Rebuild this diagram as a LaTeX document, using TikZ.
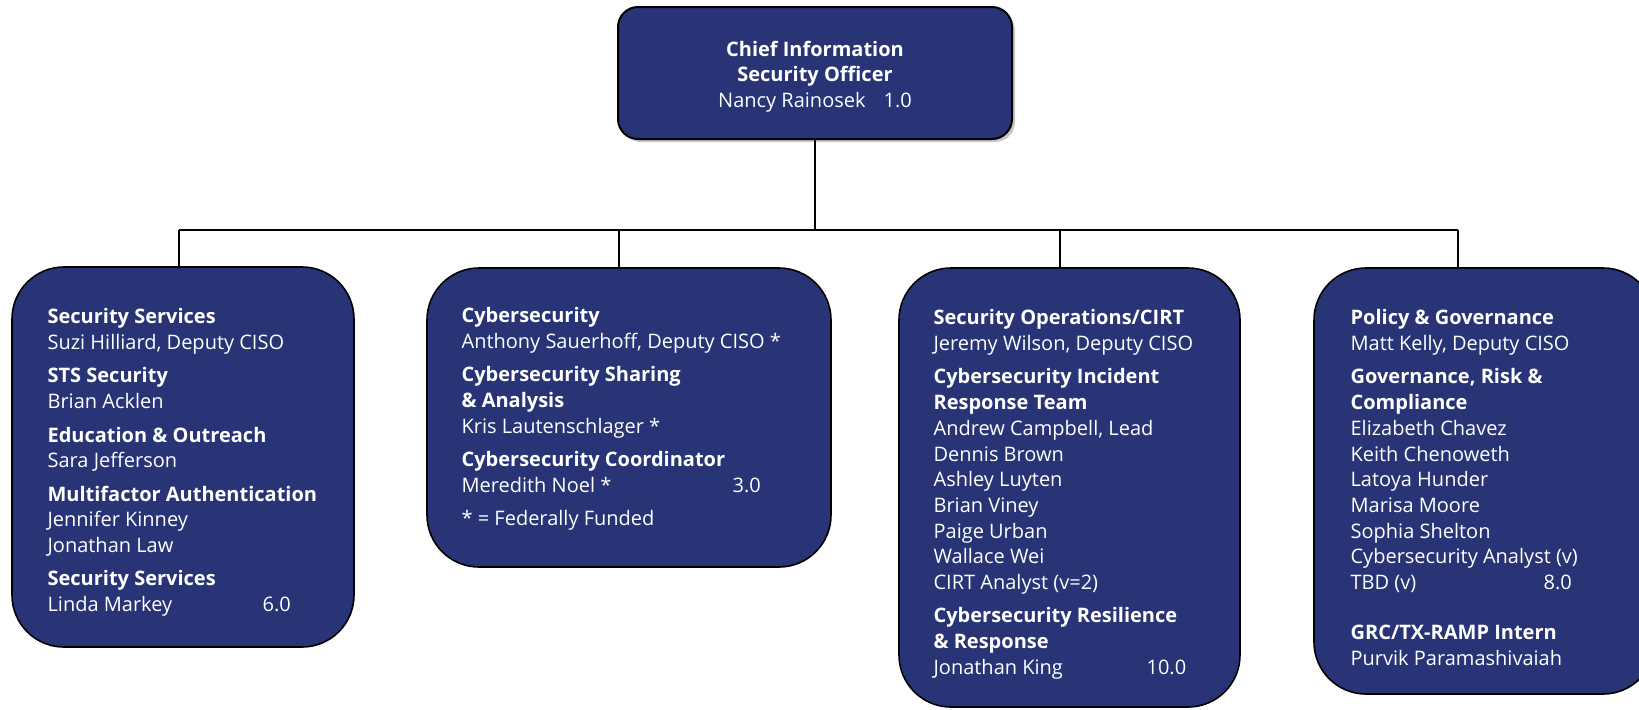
\documentclass[tikz,border=0pt]{standalone}
\usepackage{fontspec}
\setmainfont{Open Sans}
\usetikzlibrary{positioning,shadows}
\definecolor{navy}{RGB}{40,52,118}

\begin{document}
\begin{tikzpicture}[x=0.5pt,y=-0.5pt,
    unit/.style={draw=black,line width=0.8pt,fill=navy,rounded corners=26pt,inner sep=0pt},
    txt/.style={text=white,align=left,inner sep=0pt,anchor=north west,
      font=\fontsize{10}{12.85}\selectfont},
    link/.style={draw=black,line width=0.7pt}]
  \clip (0,0) rectangle (1639,709);

  % chief
  \node[unit,rounded corners=10pt,line width=1pt,minimum width=197pt,minimum height=66pt,
    drop shadow={shadow xshift=1.5pt,shadow yshift=-1.5pt,opacity=0.45},
    text=white,align=center,font=\fontsize{10}{12.85}\selectfont] (ciso) at (815,73)
    {\rule{0pt}{11.3pt}\textbf{Chief Information}\\ \textbf{Security Officer}\\ Nancy Rainosek\hspace{9pt}1.0};

  % units
  \node[unit,minimum width=171pt,minimum height=190pt] (u1) at (183,457) {};
  \node[unit,minimum width=202pt,minimum height=149.5pt] (u2) at (629,417.5) {};
  \node[unit,minimum width=170.5pt,minimum height=219.5pt] (u3) at (1069.5,487.5) {};
  \node[unit,minimum width=170.5pt,minimum height=213pt] (u4) at (1484.5,481) {};

  \node[txt] (t1) at ([shift={(36,42)}]u1.north west) {%
    \textbf{Security Services}\\
    Suzi Hilliard, Deputy CISO\\[3.85pt]
    \textbf{STS Security}\\
    Brian Acklen\\[3.85pt]
    \textbf{Education \& Outreach}\\
    Sara Jefferson\\[3.85pt]
    \textbf{Multifactor Authentication}\\
    Jennifer Kinney\\
    Jonathan Law\\[3.85pt]
    \textbf{Security Services}\\
    \makebox[107.5pt][l]{Linda Markey}6.0};

  \node[txt] (t2) at ([shift={(35,40)}]u2.north west) {%
    \textbf{Cybersecurity}\\
    Anthony Sauerhoff, Deputy CISO *\\[3.85pt]
    \textbf{Cybersecurity Sharing}\\
    \textbf{\& Analysis}\\
    Kris Lautenschlager *\\[3.85pt]
    \textbf{Cybersecurity Coordinator}\\
    \makebox[135.5pt][l]{Meredith Noel *}3.0\\[3.85pt]
    * = Federally Funded};

  \node[txt] (t3) at ([shift={(35,42)}]u3.north west) {%
    \textbf{Security Operations/CIRT}\\
    Jeremy Wilson, Deputy CISO\\[3.85pt]
    \textbf{Cybersecurity Incident}\\
    \textbf{Response Team}\\
    Andrew Campbell, Lead\\
    Dennis Brown\\
    Ashley Luyten\\
    Brian Viney\\
    Paige Urban\\
    Wallace Wei\\
    CIRT Analyst (v=2)\\[3.85pt]
    \textbf{Cybersecurity Resilience}\\
    \textbf{\& Response}\\
    \makebox[106.5pt][l]{Jonathan King}10.0};

  \node[txt] (t4) at ([shift={(37,42)}]u4.north west) {%
    \textbf{Policy \& Governance}\\
    Matt Kelly, Deputy CISO\\[3.85pt]
    \textbf{Governance, Risk \&}\\
    \textbf{Compliance}\\
    Elizabeth Chavez\\
    Keith Chenoweth\\
    Latoya Hunder\\
    Marisa Moore\\
    Sophia Shelton\\
    Cybersecurity Analyst (v)\\
    \makebox[96.5pt][l]{TBD (v)}8.0\\[12.15pt]
    \textbf{GRC/TX-RAMP Intern}\\
    Purvik Paramashivaiah};

  % connectors
  \coordinate (j1) at (179,230);
  \coordinate (j2) at (619,230);
  \coordinate (j3) at (1060,230);
  \coordinate (j4) at (1458,230);
  \coordinate (jc) at (ciso.south |- j1);

  \draw[link] (ciso.south) -- (jc);
  \draw[link] (j1) -- (j4);
  \foreach \i in {1,...,4}
    \draw[link] (j\i) -- (j\i |- u\i.north);
\end{tikzpicture}
\end{document}
